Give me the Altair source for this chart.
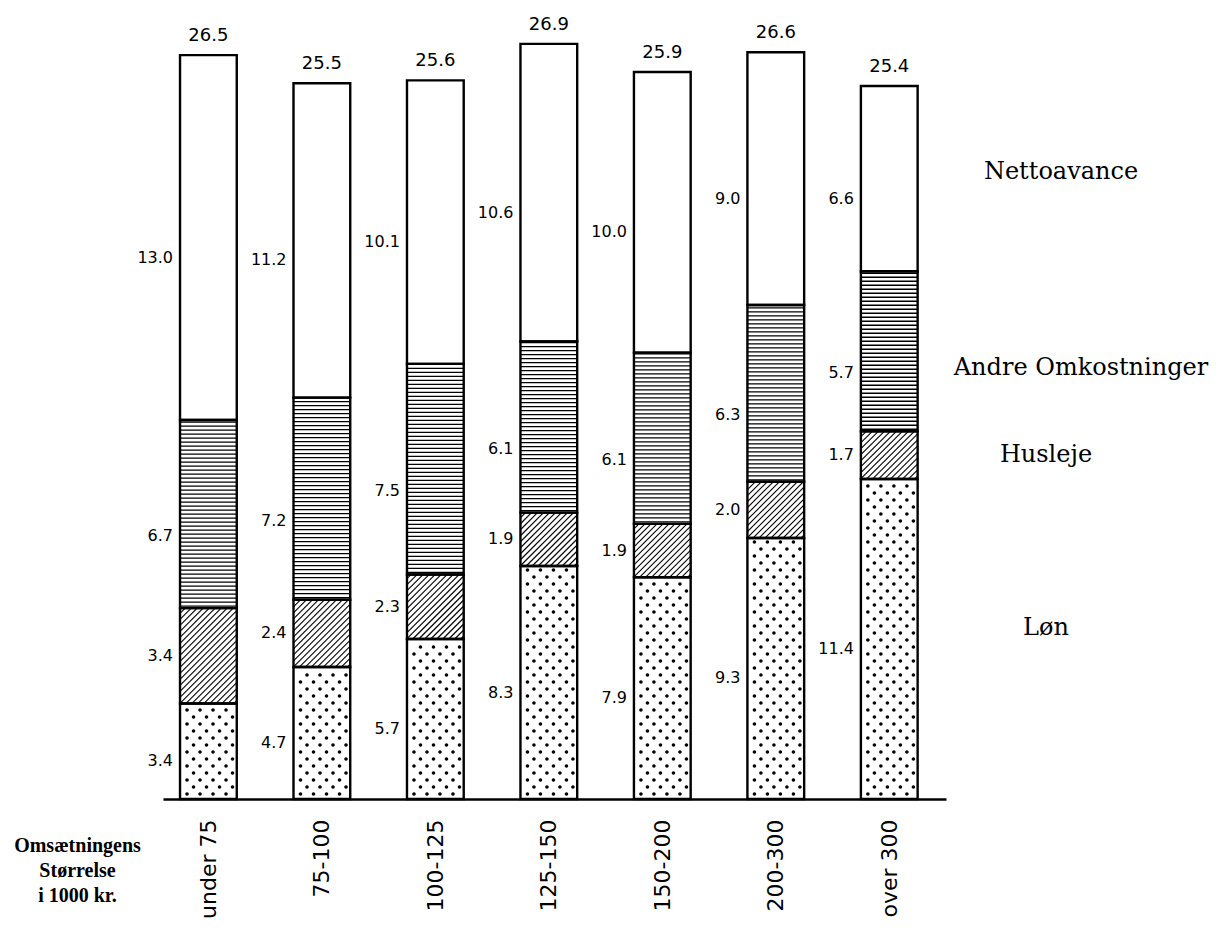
import altair as alt
import pandas as pd
import numpy as np

categories = ["under 75", "75-100", "100-125", "125-150", "150-200", "200-300", "over 300"]
lon = [3.4, 4.7, 5.7, 8.3, 7.9, 9.3, 11.4]
husleje = [3.4, 2.4, 2.3, 1.9, 1.9, 2.0, 1.7]
andre = [6.7, 7.2, 7.5, 6.1, 6.1, 6.3, 5.7]
netto = [13.0, 11.2, 10.1, 10.6, 10.0, 9.0, 6.6]
totals = [26.5, 25.5, 25.6, 26.9, 25.9, 26.6, 25.4]
series_names = ["Løn", "Husleje", "Andre Omkostninger", "Nettoavance"]
series_vals = [lon, husleje, andre, netto]
axis_title = ["Omsætningens", "Størrelse", "i 1000 kr."]

# geometry
W, H = 783, 786
XMIN, XMAX, YMAX = -0.4, 6.5, 28.0
HALF = 0.25
pxx = W / (XMAX - XMIN)
pxy = H / YMAX

seg_rows = []
for i, cat in enumerate(categories):
    cum = 0.0
    for name, vals in zip(series_names, series_vals):
        v = vals[i]
        seg_rows.append(dict(idx=i, cat=cat, series=name, value=v,
                             x0=i - HALF, x1=i + HALF, xc=i,
                             lo=cum, hi=cum + v, mid=cum + v / 2))
        cum += v
seg = pd.DataFrame(seg_rows)
tot = pd.DataFrame(dict(idx=list(range(len(categories))), cat=categories, total=totals))

# texture: horizontal lines (Andre Omkostninger)
hl = []
for r in seg[seg.series == "Andre Omkostninger"].itertuples():
    step = 4.0 / pxy
    y = r.lo + step / 2
    while y < r.hi:
        hl.append(dict(xa=r.x0, xb=r.x1, y=y))
        y += step
hl = pd.DataFrame(hl)

# texture: diagonal hatch (Husleje)
dg = []
wpx = 2 * HALF * pxx
for r in seg[seg.series == "Husleje"].itertuples():
    hpx = (r.hi - r.lo) * pxy
    c = -wpx + 3
    while c < hpx:
        xa = max(0.0, -c)
        xb = min(wpx, hpx - c)
        if xb > xa:
            dg.append(dict(xa=r.x0 + xa / pxx, xb=r.x0 + xb / pxx,
                           ya=r.lo + (xa + c) / pxy, yb=r.lo + (xb + c) / pxy))
        c += 6.0
dg = pd.DataFrame(dg)

# texture: dots (Løn)
dt = []
for r in seg[seg.series == "Løn"].itertuples():
    hpx = (r.hi - r.lo) * pxy
    row = 0
    ypx = 5.0
    while ypx < hpx - 3:
        xpx = 7.0 + (6.5 if row % 2 else 0.0)
        while xpx < wpx - 4:
            dt.append(dict(x=r.x0 + xpx / pxx, y=r.lo + ypx / pxy))
            xpx += 13.0
        ypx += 7.0
        row += 1
dt = pd.DataFrame(dt)

xs = alt.Scale(domain=[XMIN, XMAX], nice=False, zero=False)
ys = alt.Scale(domain=[0, YMAX], nice=False, zero=True)
label_expr = "[" + ",".join("'%s'" % c for c in categories) + "][round(datum.value)]"
xaxis = alt.Axis(values=list(range(len(categories))), labelExpr=label_expr,
                 labelAngle=270, labelAlign="right", labelBaseline="middle",
                 labelPadding=20, labelFontSize=22, labelFont="DejaVu Sans",
                 labelColor="black", ticks=False, grid=False,
                 domainColor="black", domainWidth=2.5,
                 title=axis_title, titleAngle=0, titleX=-86, titleY=36,
                 titleAlign="center", titleBaseline="top", titleFont="Liberation Serif",
                 titleFontSize=20, titleFontWeight="bold", titleLineHeight=25,
                 titleColor="black")


def X(f):
    return alt.X(f, type="quantitative", scale=xs, axis=xaxis)


def Y(f):
    return alt.Y(f, type="quantitative", scale=ys, axis=None)


base_fill = alt.Chart(seg).mark_rect(fill="white", strokeWidth=0).encode(
    x=X("x0"), x2="x1", y=Y("lo"), y2="hi")

hlines = alt.Chart(hl).mark_rule(color="black", strokeWidth=1.3).encode(
    x=X("xa"), x2="xb", y=Y("y"))

diag = alt.Chart(dg).mark_rule(color="black", strokeWidth=1.1).encode(
    x=X("xa"), x2="xb", y=Y("ya"), y2="yb")

dots = alt.Chart(dt).mark_circle(color="black", size=13, opacity=1).encode(
    x=X("x"), y=Y("y"))

outline = alt.Chart(seg).mark_rect(fillOpacity=0, stroke="black", strokeWidth=2.4).encode(
    x=X("x0"), x2="x1", y=Y("lo"), y2="hi")

dys = {"Løn": 10, "Husleje": 0, "Andre Omkostninger": 22, "Nettoavance": 20}
seg_labels = []
for name in series_names:
    seg_labels.append(
        alt.Chart(seg).transform_filter(alt.datum.series == name)
        .mark_text(align="right", baseline="middle", dx=-7, dy=dys[name],
                   fontSize=16, font="DejaVu Sans", color="black")
        .encode(x=X("x0"), y=Y("mid"), text=alt.Text("value:Q", format=".1f"))
    )

tot_labels = alt.Chart(tot).mark_text(
    baseline="bottom", dy=-10, fontSize=18, font="DejaVu Sans", color="black"
).encode(x=alt.X("idx:Q", scale=xs, axis=xaxis), y=Y("total"),
         text=alt.Text("total:Q", format=".1f"))

legend_pos = [("Nettoavance", 898, 159), ("Andre Omkostninger", 918, 355),
              ("Husleje", 883, 442), ("Løn", 883, 615)]
legend_layers = []
for txt, px, py in legend_pos:
    legend_layers.append(
        alt.Chart(tot).transform_filter(alt.datum.idx == 0)
        .mark_text(text=txt, fontSize=24, font="DejaVu Serif", color="black",
                   align="center", baseline="middle")
        .encode(x=alt.value(px), y=alt.value(py))
    )

chart = alt.layer(base_fill, hlines, diag, dots, outline, *seg_labels, tot_labels,
                  *legend_layers).properties(
    width=W, height=H, background="white"
).configure_view(stroke=None)

chart.save("out.html", embed_options={"renderer": "svg", "actions": False})
